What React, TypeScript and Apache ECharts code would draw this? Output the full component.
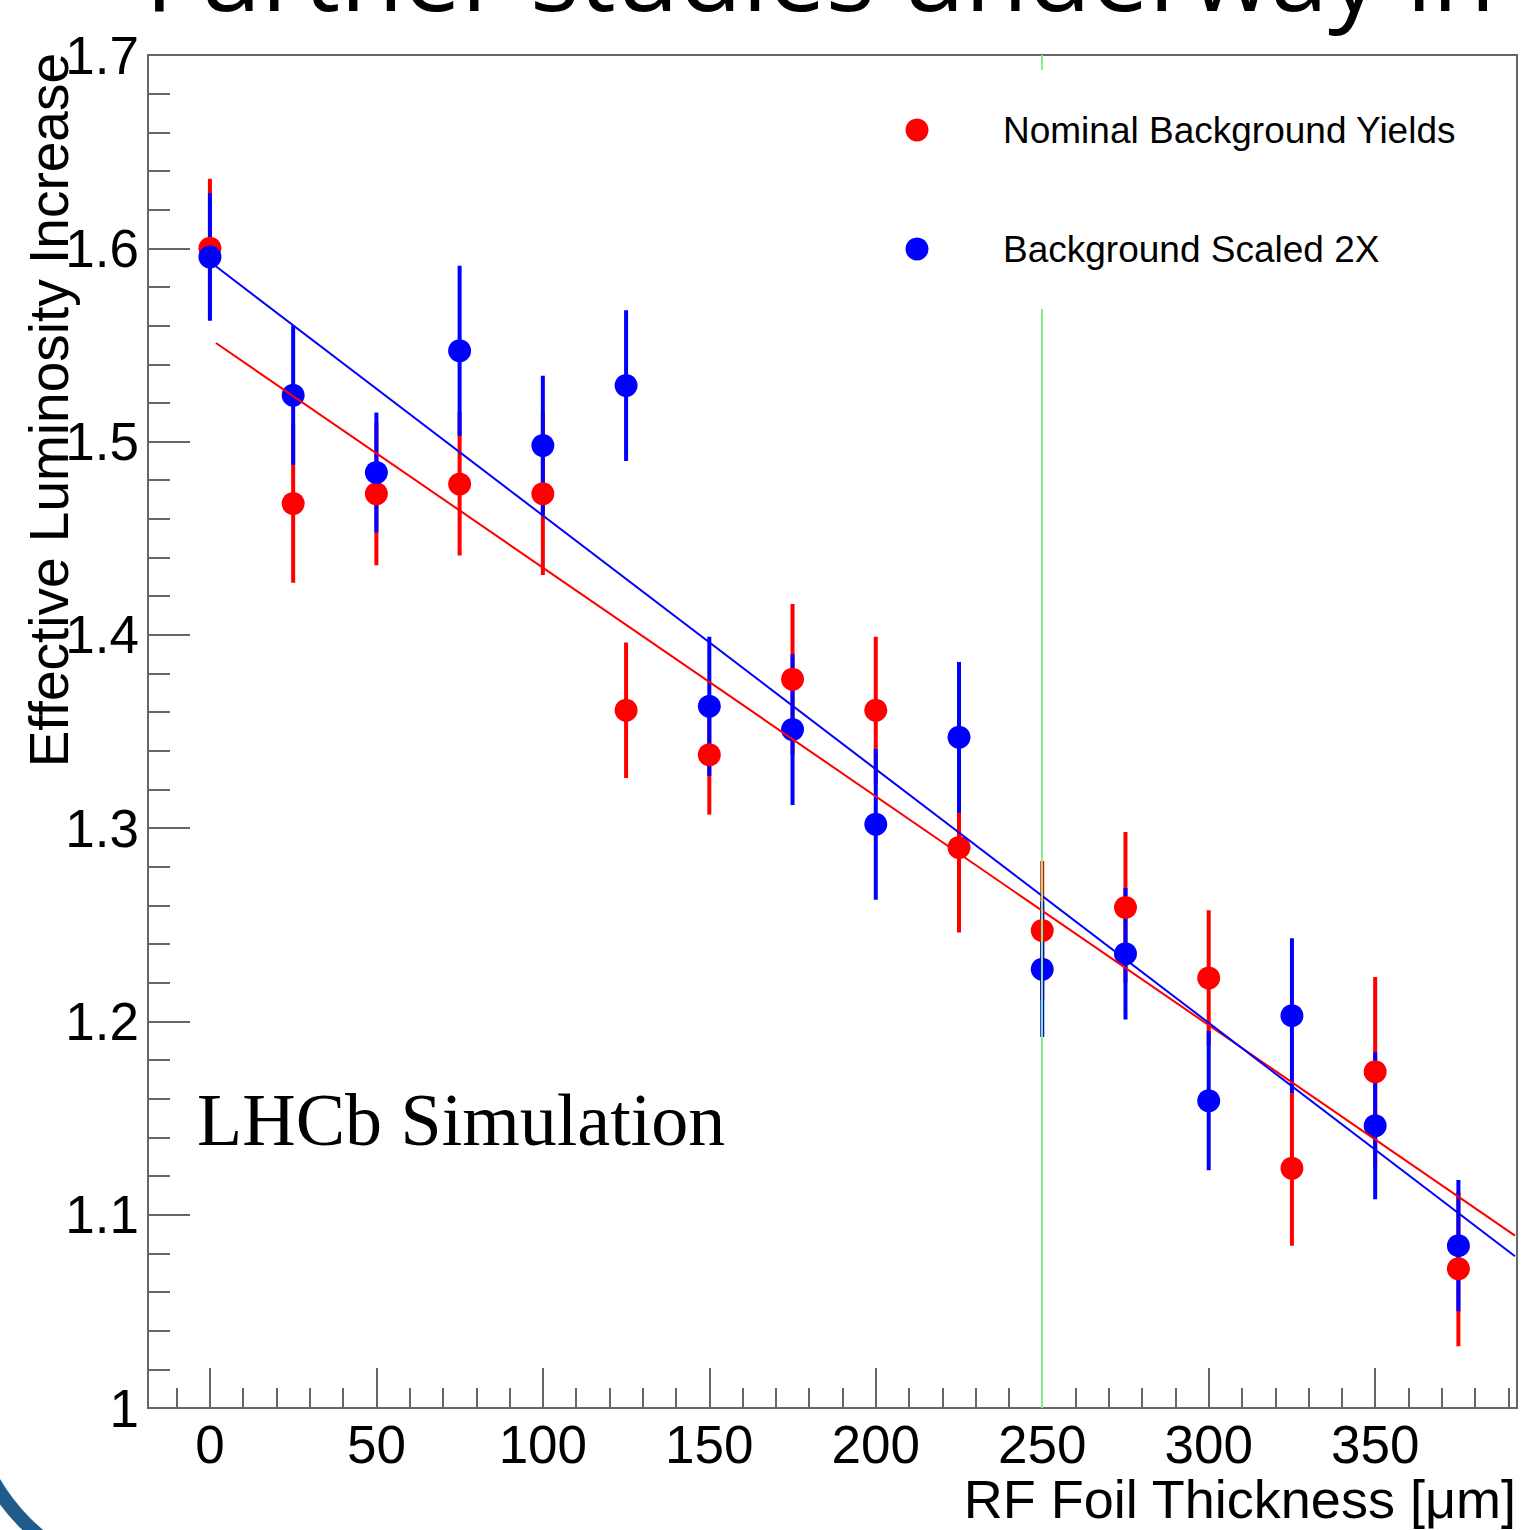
import React, { useEffect, useRef } from "react";
import * as echarts from "echarts";

// ---- data ----
const thickness = [0, 25, 50, 75, 100, 125, 150, 175, 200, 225, 250, 275, 300, 325, 350, 375];
const nominalY = [1.6, 1.468, 1.473, 1.478, 1.473, 1.361, 1.338, 1.377, 1.361, 1.29, 1.247, 1.259, 1.2225, 1.124, 1.174, 1.072];
const nominalErr = [0.036, 0.041, 0.037, 0.037, 0.042, 0.035, 0.031, 0.039, 0.038, 0.044, 0.036, 0.039, 0.035, 0.04, 0.049, 0.04];
const scaledY = [1.5955, 1.524, 1.484, 1.547, 1.498, 1.529, 1.363, 1.351, 1.302, 1.347, 1.227, 1.235, 1.159, 1.203, 1.146, 1.084];
const scaledErr = [0.033, 0.036, 0.031, 0.044, 0.036, 0.039, 0.036, 0.039, 0.039, 0.039, 0.035, 0.034, 0.036, 0.04, 0.038, 0.034];
const nominalFit = [[1.8, 1.551], [392, 1.0892]];
const scaledFit = [[0, 1.593], [392, 1.0785]];
const markerX = 250;

const xMajorTicks = [0, 50, 100, 150, 200, 250, 300, 350];
const xTickLabels = ["0", "50", "100", "150", "200", "250", "300", "350"];
const xMinorTicks = [-10, 0, 10, 20, 30, 40, 50, 60, 70, 80, 90, 100, 110, 120, 130, 140, 150, 160, 170, 180, 190, 200, 210, 220, 230, 240, 250, 260, 270, 280, 290, 300, 310, 320, 330, 340, 350, 360, 370, 380, 390];
const yMajorTicks = [1.0, 1.1, 1.2, 1.3, 1.4, 1.5, 1.6, 1.7];
const yTickLabels = ["1", "1.1", "1.2", "1.3", "1.4", "1.5", "1.6", "1.7"];
const yMinorTicks = [1.02, 1.04, 1.06, 1.08, 1.12, 1.14, 1.16, 1.18, 1.22, 1.24, 1.26, 1.28, 1.32, 1.34, 1.36, 1.38, 1.42, 1.44, 1.46, 1.48, 1.52, 1.54, 1.56, 1.58, 1.62, 1.64, 1.66, 1.68];

const legendNames = ["Nominal Background Yields", "Background Scaled 2X"];
const RED = "#ff0000";
const BLUE = "#0000ff";
const FRAME = "#666666";
const SANS = '"Liberation Sans", Arial, Helvetica, sans-serif';

function pickLabel(values: number[], labels: string[], v: number) {
  let best = 0;
  for (let i = 0; i < values.length; i++) {
    if (Math.abs(values[i] - v) < Math.abs(values[best] - v)) best = i;
  }
  return labels[best];
}

function errorSeries(ys: number[], errs: number[], color: string) {
  return {
    type: "custom",
    xAxisIndex: 0,
    yAxisIndex: 0,
    data: thickness.map((x, i) => [x, ys[i], errs[i]]),
    encode: { x: 0, y: 1 },
    renderItem: (_params: any, api: any) => {
      const x = api.value(0);
      const y = api.value(1);
      const e = api.value(2);
      const p1 = api.coord([x, y + e]);
      const p2 = api.coord([x, y - e]);
      return {
        type: "line",
        shape: { x1: p1[0], y1: p1[1], x2: p2[0], y2: p2[1] },
        style: { stroke: color, lineWidth: 4 },
      };
    },
  };
}

export default function App() {
  const ref = useRef<HTMLDivElement>(null);
  useEffect(() => {
    document.body.style.margin = "0";
    const chart = echarts.init(ref.current!, null, { renderer: "svg" });
    const option: any = {
      animation: false,
      backgroundColor: "#ffffff",
      grid: {
        left: 148,
        top: 55,
        right: 4,
        bottom: 122,
        show: true,
        borderColor: FRAME,
        borderWidth: 2,
        backgroundColor: "transparent",
      },
      xAxis: [
        {
          type: "value",
          position: "bottom",
          min: -18.6,
          max: 392.6,
          axisLine: { show: false, onZero: false },
          splitLine: { show: false },
          axisTick: { show: true, inside: true, length: 40, customValues: xMajorTicks, lineStyle: { color: FRAME, width: 2 } },
          axisLabel: {
            show: true,
            customValues: xMajorTicks,
            margin: 12,
            fontSize: 53,
            lineHeight: 48,
            fontFamily: SANS,
            color: "#000",
            formatter: (v: number) => pickLabel(xMajorTicks, xTickLabels, v),
          },
        },
        {
          type: "value",
          position: "bottom",
          min: -18.6,
          max: 392.6,
          axisLine: { show: false, onZero: false },
          splitLine: { show: false },
          axisTick: { show: true, inside: true, length: 20, customValues: xMinorTicks, lineStyle: { color: FRAME, width: 2 } },
          axisLabel: { show: false },
        },
      ],
      yAxis: [
        {
          type: "value",
          position: "left",
          min: 1.0,
          max: 1.7,
          axisLine: { show: false, onZero: false },
          splitLine: { show: false },
          axisTick: { show: true, inside: true, length: 42, customValues: yMajorTicks, lineStyle: { color: FRAME, width: 2 } },
          axisLabel: {
            show: true,
            customValues: yMajorTicks,
            margin: 9,
            fontSize: 53,
            fontFamily: SANS,
            color: "#000",
            formatter: (v: number) => pickLabel(yMajorTicks, yTickLabels, v),
          },
        },
        {
          type: "value",
          position: "left",
          min: 1.0,
          max: 1.7,
          axisLine: { show: false, onZero: false },
          splitLine: { show: false },
          axisTick: { show: true, inside: true, length: 22, customValues: yMinorTicks, lineStyle: { color: FRAME, width: 2 } },
          axisLabel: { show: false },
        },
      ],
      series: [
        {
          type: "line",
          data: [],
          silent: true,
          markLine: {
            silent: true,
            symbol: "none",
            label: { show: false },
            lineStyle: { color: "#88ee88", width: 2, type: "solid" },
            data: [
              [{ coord: [markerX, 1.7] }, { coord: [markerX, 1.6922] }],
              [{ coord: [markerX, 1.5686] }, { coord: [markerX, 1.0] }],
            ],
          },
        },
        errorSeries(nominalY, nominalErr, RED),
        {
          type: "scatter",
          name: legendNames[0],
          symbol: "circle",
          symbolSize: 23,
          itemStyle: { color: RED, opacity: 1 },
          data: thickness.map((x, i) => [x, nominalY[i]]),
        },
        {
          type: "line",
          data: nominalFit,
          showSymbol: false,
          symbol: "none",
          lineStyle: { color: RED, width: 2 },
        },
        errorSeries(scaledY, scaledErr, BLUE),
        {
          type: "scatter",
          name: legendNames[1],
          symbol: "circle",
          symbolSize: 23,
          itemStyle: { color: BLUE, opacity: 1 },
          data: thickness.map((x, i) => [x, scaledY[i]]),
        },
        {
          type: "line",
          data: scaledFit,
          showSymbol: false,
          symbol: "none",
          lineStyle: { color: BLUE, width: 2 },
        },
      ],
      graphic: [
        {
          type: "text",
          x: 145,
          y: -29,
          style: { text: "Further studies underway in", fontSize: 103, fontFamily: '"Open Sans", sans-serif', fill: "#000", align: "left", verticalAlign: "middle" },
        },
        {
          type: "text",
          x: 49,
          y: 53,
          rotation: Math.PI / 2,
          style: { text: "Effective Luminosity Increase", fontSize: 55, fontFamily: SANS, fill: "#000", align: "right", verticalAlign: "middle" },
        },
        {
          type: "text",
          x: 1516,
          y: 1499,
          style: { text: "RF Foil Thickness [μm]", fontSize: 54, fontFamily: SANS, fill: "#000", align: "right", verticalAlign: "middle" },
        },
        {
          type: "text",
          x: 197,
          y: 1120,
          style: { text: "LHCb Simulation", fontSize: 74, fontFamily: '"Liberation Serif", "Times New Roman", serif', fill: "#000", align: "left", verticalAlign: "middle" },
        },
        { type: "circle", shape: { cx: 917, cy: 130, r: 11.5 }, style: { fill: RED }, z: 10 },
        { type: "circle", shape: { cx: 917, cy: 249, r: 11.5 }, style: { fill: BLUE }, z: 10 },
        {
          type: "text",
          x: 1003,
          y: 130,
          z: 10,
          style: { text: legendNames[0], fontSize: 37, fontFamily: SANS, fill: "#000", align: "left", verticalAlign: "middle" },
        },
        {
          type: "text",
          x: 1003,
          y: 249,
          z: 10,
          style: { text: legendNames[1], fontSize: 37, fontFamily: SANS, fill: "#000", align: "left", verticalAlign: "middle" },
        },
        {
          type: "arc",
          shape: { cx: 163, cy: 1385, r: 195, startAngle: (100 * Math.PI) / 180, endAngle: (170 * Math.PI) / 180, clockwise: true },
          style: { stroke: "#1f5c8c", lineWidth: 14, fill: null },
          z: 10,
        },
      ],
    };
    chart.setOption(option);
    return () => chart.dispose();
  }, []);
  return <div ref={ref} style={{ width: 1521, height: 1530 }} />;
}
